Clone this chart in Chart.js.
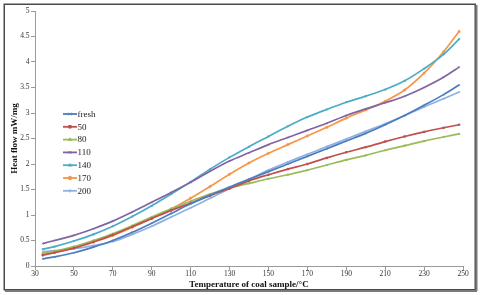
<!DOCTYPE html>
<html>
<head>
<meta charset="utf-8">
<script src="https://cdn.jsdelivr.net/npm/chart.js@4/dist/chart.umd.min.js"></script>
<style>
html,body{margin:0;padding:0;background:#fff;}
#wrap{position:relative;width:480px;height:295px;}
</style>
</head>
<body>
<div id="wrap"><canvas id="c" width="480" height="295"></canvas></div>
<script>
// ---- data ----
const temps = [34,40,50,60,70,80,90,100,110,120,130,140,150,160,170,180,190,200,210,220,230,240,248];
const seriesNames = ["fresh","50","80","110","140","170","200"];
const fresh = [0.14,0.18,0.26,0.37,0.50,0.66,0.84,1.03,1.22,1.39,1.55,1.70,1.85,2.00,2.15,2.30,2.45,2.60,2.77,2.95,3.15,3.36,3.55];
const s50   = [0.21,0.26,0.35,0.47,0.61,0.77,0.93,1.09,1.23,1.38,1.52,1.67,1.79,1.90,2.00,2.12,2.23,2.33,2.44,2.54,2.63,2.71,2.77];
const s80   = [0.25,0.29,0.38,0.50,0.63,0.79,0.96,1.12,1.27,1.41,1.53,1.62,1.71,1.79,1.88,1.98,2.08,2.17,2.27,2.36,2.45,2.53,2.59];
const s110  = [0.44,0.50,0.60,0.73,0.88,1.06,1.25,1.44,1.64,1.86,2.06,2.22,2.38,2.52,2.66,2.80,2.95,3.08,3.20,3.33,3.50,3.70,3.90];
const s140  = [0.33,0.38,0.49,0.62,0.78,0.97,1.18,1.41,1.65,1.90,2.13,2.34,2.54,2.74,2.92,3.07,3.21,3.33,3.46,3.63,3.87,4.15,4.45];
const s170  = [0.22,0.27,0.36,0.47,0.60,0.76,0.93,1.12,1.33,1.56,1.80,2.02,2.21,2.38,2.55,2.72,2.90,3.06,3.23,3.45,3.78,4.20,4.60];
const s200  = [0.28,0.30,0.34,0.40,0.48,0.62,0.78,0.96,1.14,1.33,1.52,1.70,1.88,2.04,2.19,2.34,2.49,2.64,2.79,2.95,3.12,3.28,3.41];
const xTicks = [30,50,70,90,110,130,150,170,190,210,230,250];
const yTicks = [0,0.5,1,1.5,2,2.5,3,3.5,4,4.5,5];
const xTitle = "Temperature of coal sample/°C";
const yTitle = "Heat flow mW/mg";

// ---- styles ----
const colors = ["#4A7CC0","#C0504D","#9BBB59","#8064A2","#4BACC6","#F79646","#8EB1E0"];
const markers = ["crossRot","rect","triangle","crossRot","star","circle","cross"];
const allSeries = [fresh,s50,s80,s110,s140,s170,s200];

const datasets = allSeries.map((vals,i)=>({
  label: seriesNames[i],
  data: vals.map((v,j)=>({x:temps[j], y:v})),
  borderColor: colors[i],
  backgroundColor: colors[i],
  borderWidth: 1.7,
  pointStyle: markers[i],
  pointRadius: 1.1,
  pointBorderWidth: 0.8,
  cubicInterpolationMode: 'monotone',
  fill: false
}));

const serif = "'Liberation Serif','Times New Roman',serif";

const legendPlugin = {
  id: 'insideLegend',
  afterDatasetsDraw(chart){
    const ctx = chart.ctx;
    ctx.save();
    chart.data.datasets.forEach((ds,i)=>{
      const y = 114 + 12.8*i;
      ctx.strokeStyle = ds.borderColor;
      ctx.fillStyle = ds.borderColor;
      ctx.lineWidth = 1.8;
      ctx.beginPath(); ctx.moveTo(63,y); ctx.lineTo(77,y); ctx.stroke();
      ctx.lineWidth = 1;
      Chart.helpers.drawPoint(ctx,{pointStyle: ds.pointStyle, radius: 1.8, borderWidth: 1}, 70, y);
      ctx.fillStyle = '#222';
      ctx.font = "9px " + serif;
      ctx.textAlign = 'left';
      ctx.textBaseline = 'middle';
      ctx.fillText(ds.label, 77.5, y+0.5);
    });
    ctx.restore();
  }
};

const framePlugin = {
  id: 'frame',
  beforeDraw(chart){
    const ctx = chart.ctx;
    ctx.save();
    ctx.fillStyle = '#fff';
    ctx.fillRect(0,0,chart.width,chart.height);
    ctx.restore();
  },
  afterDraw(chart){
    const ctx = chart.ctx;
    ctx.save();
    ctx.strokeStyle = '#4a4a4a';
    ctx.lineWidth = 1.5;
    ctx.strokeRect(4.25,4.25,471,285.5);
    ctx.strokeStyle = '#7a7a7a';
    ctx.lineWidth = 2;
    ctx.beginPath(); ctx.moveTo(5,291); ctx.lineTo(477,291); ctx.stroke();
    ctx.beginPath(); ctx.moveTo(476.5,5); ctx.lineTo(476.5,291); ctx.stroke();
    ctx.restore();
  }
};

new Chart(document.getElementById('c'), {
  type: 'line',
  data: { datasets },
  plugins: [framePlugin, legendPlugin],
  options: {
    responsive: false,
    animation: false,
    events: [],
    layout: { padding: { left: 3, right: 17, top: 11, bottom: 4 } },
    plugins: { legend: { display: false }, tooltip: { enabled: false } },
    scales: {
      x: {
        type: 'linear', min: 30, max: 250,
        afterBuildTicks: (s)=>{ s.ticks = xTicks.map(v=>({value:v})); },
        afterFit: (s)=>{ s.height = 25; },
        grid: { display: true, drawOnChartArea: false, drawTicks: true, tickLength: 4, color: '#9a9a9a' },
        border: { display: true, color: '#9a9a9a', width: 1 },
        ticks: { padding: 0, maxRotation: 0, autoSkip: false, color: '#333', font: { family: serif, size: 7.5 },
                 callback: (v)=>String(v) },
        title: { display: true, text: xTitle, color: '#111', padding: { top: 0, bottom: 0.6 }, font: { family: serif, size: 9, weight: 'bold' } }
      },
      y: {
        type: 'linear', min: 0, max: 5,
        afterBuildTicks: (s)=>{ s.ticks = yTicks.map(v=>({value:v})); },
        afterFit: (s)=>{ s.width = 32; },
        grid: { display: true, drawOnChartArea: false, drawTicks: true, tickLength: 4, color: '#9a9a9a' },
        border: { display: true, color: '#9a9a9a', width: 1 },
        ticks: { padding: 1.5, color: '#333', font: { family: serif, size: 7.5 },
                 callback: (v)=>String(v) },
        title: { display: true, text: yTitle, color: '#111', padding: { top: 6.5, bottom: 0 }, font: { family: serif, size: 9, weight: 'bold' } }
      }
    }
  }
});
</script>
</body>
</html>
